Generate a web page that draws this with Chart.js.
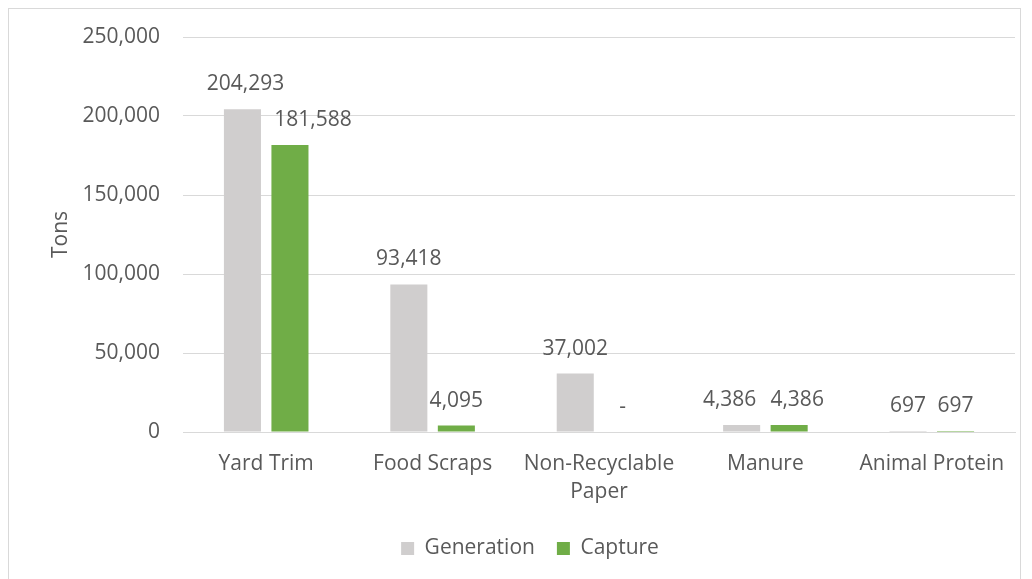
<!DOCTYPE html>
<html>
<head>
<meta charset="utf-8">
<script src="https://cdn.jsdelivr.net/npm/chart.js@4.4.1/dist/chart.umd.min.js"></script>
<style>
  html, body { margin: 0; padding: 0; background: #fff; overflow: hidden; }
  #wrap { position: relative; width: 1032px; height: 579px; }
  #frame { position: absolute; left: 8px; top: 8px; width: 1013px; height: 640px; border: 1px solid #d9d9d9; box-sizing: border-box; }
  canvas { position: absolute; left: 0; top: 0; }
</style>
</head>
<body>
<div id="wrap">
  <div id="frame"></div>
  <canvas id="c" width="1032" height="579"></canvas>
</div>
<script>
const categories = ['Yard Trim', 'Food Scraps', ['Non-Recyclable', 'Paper'], 'Manure', 'Animal Protein'];
const generation = [204293, 93418, 37002, 4386, 697];
const capture = [181588, 4095, 0, 4386, 697];
const yTicks = [0, 50000, 100000, 150000, 200000, 250000];

const TEXT = '#595959';
const FONT = 'Open Sans';
const FS = 21;

// Horizontal nudges for value labels that would otherwise collide
// (keyed by dataset index, then category index).
const labelNudge = { 0: { 0: 3, 3: -12 }, 1: { 0: 23, 3: 8 } };

const valueLabels = {
  id: 'valueLabels',
  afterDatasetsDraw(chart) {
    const ctx = chart.ctx;
    ctx.save();
    ctx.font = FS + 'px "' + FONT + '"';
    ctx.fillStyle = TEXT;
    ctx.textAlign = 'center';
    ctx.textBaseline = 'middle';
    chart.data.datasets.forEach((ds, i) => {
      const meta = chart.getDatasetMeta(i);
      meta.data.forEach((bar, j) => {
        const v = ds.data[j];
        const txt = v === 0 ? '-' : v.toLocaleString('en-US');
        const dx = (labelNudge[i] && labelNudge[i][j]) || 0;
        ctx.fillText(txt, bar.x + dx, bar.y - 25);
      });
    });
    ctx.restore();
  }
};

new Chart(document.getElementById('c'), {
  type: 'bar',
  data: {
    labels: categories,
    datasets: [
      { label: 'Generation', data: generation, backgroundColor: '#d0cece', categoryPercentage: 0.571, barPercentage: 0.78 },
      { label: 'Capture', data: capture, backgroundColor: '#70ad47', categoryPercentage: 0.571, barPercentage: 0.78 }
    ]
  },
  options: {
    responsive: false,
    animation: false,
    devicePixelRatio: 1,
    layout: { padding: { top: 37, right: 17, left: 45, bottom: 10 } },
    plugins: {
      legend: {
        position: 'bottom',
        labels: {
          color: TEXT,
          font: { family: FONT, size: FS },
          boxWidth: 13,
          boxHeight: 13,
          padding: 22
        }
      },
      tooltip: { enabled: false }
    },
    scales: {
      x: {
        afterFit(scale) { scale.height = 84; },
        grid: { display: false, drawTicks: false },
        border: { color: '#d9d9d9', width: 1 },
        ticks: { color: TEXT, font: { family: FONT, size: FS, lineHeight: 1.33 }, padding: 18, maxRotation: 0, autoSkip: false }
      },
      y: {
        min: 0,
        max: 250000,
        afterBuildTicks(scale) { scale.ticks = yTicks.map(v => ({ value: v })); },
        afterFit(scale) { scale.width = 138; },
        grid: { color: '#d9d9d9', lineWidth: 1, drawTicks: false },
        border: { display: false },
        ticks: {
          color: TEXT,
          font: { family: FONT, size: FS },
          padding: 23,
          callback: v => v.toLocaleString('en-US')
        },
        title: {
          display: true,
          text: 'Tons',
          color: TEXT,
          font: { family: FONT, size: 21 },
          padding: { top: 3, bottom: 0 }
        }
      }
    }
  },
  plugins: [valueLabels]
});
</script>
</body>
</html>
